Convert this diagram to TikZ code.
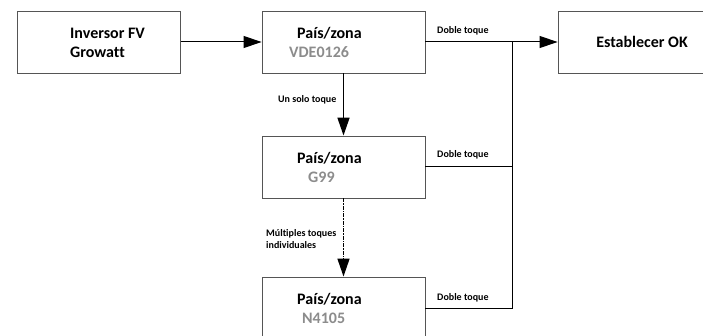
\documentclass[tikz,border=0pt]{standalone}
\usepackage{fontspec}
\setmainfont[Ligatures=NoCommon]{Carlito}
\usetikzlibrary{arrows.meta}

\definecolor{codegray}{RGB}{140,140,140}
\definecolor{boxline}{RGB}{85,85,85}

\tikzset{
  caja/.style={draw=boxline, line width=0.9pt, minimum width=163pt, minimum height=62pt, inner sep=0pt},
  titulo/.style={font=\bfseries\fontsize{16}{19}\selectfont, inner sep=0pt, align=left},
  codigo/.style={font=\bfseries\fontsize{16}{19}\selectfont, text=codegray, inner sep=0pt},
  etiqueta/.style={font=\bfseries\fontsize{10}{11.5}\selectfont, inner sep=0pt, align=left},
  flecha/.style={line width=1pt, -{Triangle[length=18pt,width=12pt]}},
  linea/.style={line width=1pt}
}

\begin{document}
\begin{tikzpicture}[x=1pt,y=-1pt]
\useasboundingbox (0,0) rectangle (703,336);

% cajas
\node[caja] (inv) at (99,42) {};
\node[caja] (vde) at (343.5,42) {};
\node[caja] (ok) at (639.5,42) {};
\node[caja] (g99) at (343.5,167) {};
\node[caja] (n41) at (343.5,308) {};

% textos de las cajas
\node[titulo, anchor=west] (invtxt) at (70,42.5) {Inversor FV\\Growatt};
\node[titulo, anchor=west] (vdetit) at (297,33) {País/zona};
\node[codigo, anchor=west] (vdecod) at (289,52) {VDE0126};
\node[titulo] (oktxt) at (642,42) {Establecer OK};
\node[titulo, anchor=west] (g99tit) at (297,158) {País/zona};
\node[codigo, anchor=west] (g99cod) at (308,177) {G99};
\node[titulo, anchor=west] (n41tit) at (297,299) {País/zona};
\node[codigo, anchor=west] (n41cod) at (302,318) {N4105};

% conexiones
\coordinate (bus) at (512,42);
\draw[flecha] (inv.east) -- (vde.west);
\draw[linea] (vde.east) -- (bus);
\draw[flecha] (bus) -- (ok.west);
\draw[linea] (g99.east) -- (g99.east -| bus);
\draw[linea] (n41.east) -- (n41.east -| bus) -- (bus);
\draw[flecha, line width=1.7pt] (vde.south) -- (g99.north);
\draw[flecha, line width=1.6pt, dash pattern=on 4pt off 1pt on 1.5pt off 1pt] (g99.south) -- (n41.north);

% etiquetas
\node[etiqueta, anchor=west] (e1) at (437,31) {Doble toque};
\node[etiqueta, anchor=west] (e2) at (437,155) {Doble toque};
\node[etiqueta, anchor=west] (e3) at (437,298) {Doble toque};
\node[etiqueta, anchor=west] (e4) at (278,100) {Un solo toque};
\node[etiqueta, anchor=west] (e5) at (266,239) {Múltiples toques\\individuales};
\end{tikzpicture}
\end{document}
